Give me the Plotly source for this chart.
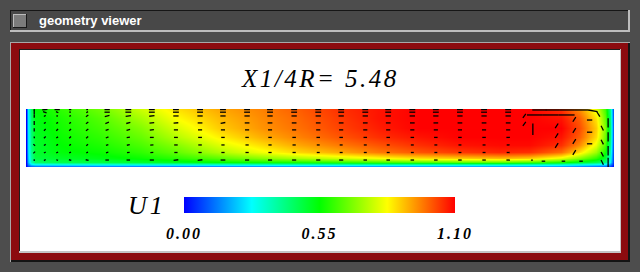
import plotly.graph_objects as go

# ---------------- data ----------------
title_text = "X1/4R= 5.48"
cbar_label = "U1"
tick_vals = [0.0, 0.55, 1.10]
tick_text = ["0.00", "0.55", "1.10"]
u_min, u_max = 0.0, 1.10

# contour grid (channel units: x 0..100 across, y 0..10 up)
grid_x = [0, 0.4, 0.9, 1.5, 6, 12.5, 19.5, 26, 33, 40, 46.5, 53.5, 60, 67, 74, 80.5, 85.5, 91, 94, 97, 98.5, 99.3, 100]
grid_y = [0, 0.2, 0.45, 0.85, 1.55, 2.6, 3.8, 5.2, 6.7, 8.4, 10]
u1 = [
    [0.0, 0.02, 0.02, 0.02, 0.02, 0.02, 0.02, 0.02, 0.02, 0.02, 0.02, 0.02, 0.02, 0.02, 0.02, 0.02, 0.02, 0.02, 0.02, 0.02, 0.02, 0.02, 0.0],
    [0.0, 0.08, 0.12, 0.14, 0.14, 0.15, 0.15, 0.15, 0.16, 0.17, 0.18, 0.18, 0.18, 0.19, 0.19, 0.19, 0.19, 0.18, 0.16, 0.14, 0.12, 0.08, 0.0],
    [0.0, 0.15, 0.26, 0.30, 0.32, 0.33, 0.34, 0.35, 0.36, 0.37, 0.38, 0.39, 0.40, 0.40, 0.40, 0.40, 0.38, 0.36, 0.33, 0.30, 0.27, 0.18, 0.0],
    [0.0, 0.20, 0.35, 0.44, 0.47, 0.48, 0.50, 0.52, 0.55, 0.57, 0.58, 0.60, 0.62, 0.64, 0.65, 0.65, 0.63, 0.58, 0.52, 0.47, 0.42, 0.28, 0.0],
    [0.0, 0.22, 0.38, 0.48, 0.51, 0.53, 0.56, 0.60, 0.65, 0.70, 0.74, 0.78, 0.82, 0.86, 0.88, 0.90, 0.88, 0.80, 0.70, 0.60, 0.50, 0.32, 0.0],
    [0.0, 0.24, 0.40, 0.50, 0.54, 0.56, 0.60, 0.66, 0.74, 0.81, 0.87, 0.92, 0.97, 1.01, 1.04, 1.06, 1.05, 0.98, 0.86, 0.72, 0.57, 0.36, 0.0],
    [0.0, 0.25, 0.41, 0.50, 0.55, 0.58, 0.63, 0.70, 0.79, 0.86, 0.92, 0.97, 1.01, 1.05, 1.08, 1.09, 1.09, 1.05, 0.95, 0.80, 0.63, 0.40, 0.0],
    [0.0, 0.25, 0.42, 0.51, 0.56, 0.60, 0.66, 0.75, 0.84, 0.91, 0.96, 1.01, 1.05, 1.08, 1.10, 1.10, 1.10, 1.08, 1.00, 0.86, 0.67, 0.43, 0.0],
    [0.0, 0.26, 0.43, 0.52, 0.57, 0.62, 0.69, 0.79, 0.88, 0.94, 0.98, 1.03, 1.07, 1.10, 1.10, 1.10, 1.10, 1.10, 1.02, 0.88, 0.69, 0.44, 0.0],
    [0.0, 0.26, 0.44, 0.53, 0.58, 0.64, 0.73, 0.83, 0.90, 0.95, 0.99, 1.04, 1.08, 1.10, 1.10, 1.10, 1.10, 1.08, 1.00, 0.85, 0.66, 0.42, 0.0],
    [0.0, 0.27, 0.45, 0.55, 0.60, 0.67, 0.77, 0.86, 0.92, 0.96, 1.00, 1.05, 1.08, 1.10, 1.10, 1.10, 1.10, 1.05, 0.95, 0.80, 0.62, 0.40, 0.0],
]

# secondary-flow vectors on a regular grid (rows top -> bottom)
vec_x = [1.4, 3.2, 5.3, 7.5, 10.4, 13.8, 17.4, 21.4, 25.5, 29.6, 33.5, 37.6, 41.5, 45.6, 49.7, 53.6, 57.7, 61.6, 65.7, 69.7, 73.8, 77.9, 82.0]
vec_y = [9.9, 9.45, 8.8, 7.6, 6.4, 5.1, 3.8, 2.5, 1.2]
vec_u = [
    [0.0, 0.9, 0.9, 0.4, 0.3, 0.9, 1.0, 1.0, 1.0, 1.0, 1.0, 1.0, 1.0, 1.0, 1.0, 1.0, 1.0, 1.0, 1.0, 1.0, 1.0, 1.0, 1.0],
    [0.0, 0.6, 0.4, 0.3, 0.3, 0.9, 1.0, 1.0, 1.0, 1.0, 1.0, 1.0, 1.0, 1.0, 1.0, 1.0, 1.0, 1.0, 1.0, 1.0, 1.0, 1.0, 1.0],
    [0.0, 0.3, 0.3, 0.3, 0.4, 0.8, 0.9, 0.9, 0.9, 0.9, 0.9, 0.9, 0.9, 0.9, 0.9, 0.9, 0.9, 0.9, 0.9, 0.9, 0.9, 0.9, 0.9],
    [0.0, 0.3, 0.3, 0.3, 0.4, 0.6, 0.7, 0.8, 0.8, 0.8, 0.8, 0.8, 0.8, 0.8, 0.8, 0.8, 0.8, 0.8, 0.8, 0.8, 0.8, 0.8, 0.8],
    [0.0, 0.3, 0.3, 0.3, 0.4, 0.5, 0.6, 0.7, 0.7, 0.7, 0.7, 0.7, 0.7, 0.7, 0.7, 0.7, 0.7, 0.7, 0.7, 0.7, 0.7, 0.7, 0.7],
    [0.1, 0.3, 0.3, 0.3, 0.35, 0.45, 0.55, 0.65, 0.65, 0.65, 0.6, 0.6, 0.6, 0.6, 0.6, 0.6, 0.6, 0.6, 0.6, 0.6, 0.6, 0.6, 0.6],
    [0.3, 0.3, 0.3, 0.3, 0.3, 0.4, 0.5, 0.55, 0.6, 0.6, 0.55, 0.55, 0.55, 0.55, 0.5, 0.5, 0.5, 0.5, 0.5, 0.5, 0.5, 0.5, 0.5],
    [0.3, 0.3, 0.3, 0.3, 0.3, 0.4, 0.45, 0.5, 0.55, 0.55, 0.55, 0.55, 0.55, 0.55, 0.5, 0.5, 0.5, 0.5, 0.5, 0.5, 0.5, 0.5, 0.5],
    [0.0, 0.3, 0.3, 0.4, 0.5, 0.6, 0.6, 0.7, 0.8, 0.8, 0.8, 0.7, 0.7, 0.7, 0.7, 0.7, 0.6, 0.6, 0.6, 0.6, 0.6, 0.6, 0.6],
]
vec_v = [
    [-0.5, 0.1, 0.0, 0.0, 0.0, 0.0, 0.0, 0.0, 0.0, 0.0, 0.0, 0.0, 0.0, 0.0, 0.0, 0.0, 0.0, 0.0, 0.0, 0.0, 0.0, 0.0, 0.0],
    [-0.6, -0.2, -0.2, 0.0, 0.2, 0.0, 0.0, 0.0, 0.0, 0.0, 0.0, 0.0, 0.0, 0.0, 0.0, 0.0, 0.0, 0.0, 0.0, 0.0, 0.0, 0.0, 0.0],
    [-0.6, 0.2, 0.0, 0.1, 0.3, 0.2, 0.15, 0.1, 0.0, 0.0, 0.0, 0.0, 0.0, 0.0, 0.0, 0.0, 0.0, 0.0, 0.0, 0.0, 0.0, 0.0, 0.0],
    [-0.7, 0.2, 0.2, 0.2, 0.3, 0.25, 0.2, 0.1, 0.05, 0.0, 0.15, 0.0, 0.0, 0.0, 0.0, 0.0, 0.0, 0.0, 0.0, 0.0, 0.0, 0.0, 0.0],
    [-0.6, 0.3, 0.3, 0.3, 0.3, 0.2, 0.15, 0.1, 0.0, 0.0, 0.0, 0.0, 0.0, 0.0, 0.0, 0.0, 0.0, 0.0, 0.0, 0.0, 0.0, 0.0, 0.0],
    [-0.3, 0.3, 0.2, 0.3, 0.3, 0.2, 0.1, 0.0, 0.0, 0.0, 0.0, 0.0, 0.0, 0.0, 0.0, 0.0, 0.0, 0.0, 0.0, 0.0, 0.0, 0.0, 0.0],
    [-0.3, 0.2, 0.2, 0.2, 0.25, 0.15, 0.1, 0.05, 0.0, 0.0, 0.0, 0.0, 0.0, 0.0, 0.0, 0.0, 0.0, 0.0, 0.0, 0.0, 0.0, 0.0, 0.0],
    [0.3, 0.2, 0.2, 0.15, 0.1, 0.1, 0.05, 0.05, 0.0, 0.0, 0.0, 0.0, 0.0, 0.0, 0.0, 0.0, 0.0, 0.0, 0.0, 0.0, 0.0, 0.0, 0.0],
    [0.3, 0.2, -0.1, -0.1, -0.1, 0.0, 0.0, 0.0, 0.1, 0.1, 0.0, 0.0, 0.0, 0.0, 0.0, 0.0, 0.0, 0.0, 0.0, 0.0, 0.0, 0.0, 0.0],
]

# vectors in the corner vortex
vortex_x = [86.1, 88.4, 90.8, 93.2, 95.6, 97.1, 85.2, 87.9, 90.6, 84.5, 84.5, 86.2, 86.2,
            90.0, 90.0, 90.0, 93.0, 93.0, 93.0, 93.0, 95.4, 95.4, 95.4,
            97.8, 97.8, 97.8, 97.8, 99.0, 99.0, 99.0, 99.0, 88.3, 91.7, 94.7]
vortex_y = [9.83, 9.83, 9.83, 9.83, 9.83, 9.48, 8.97, 8.97, 8.97, 8.45, 7.07, 5.5, 1.2,
            6.7, 5.0, 3.3, 7.8, 5.9, 4.0, 2.1, 8.1, 6.0, 4.0,
            7.1, 4.7, 2.6, 1.2, 8.4, 6.0, 3.6, 1.6, 1.0, 1.0, 1.0]
vortex_u = [2.4, 2.4, 2.4, 2.4, 1.6, 0.5, 2.7, 2.7, 2.7, 0.5, 0.5, 0.0, -0.3,
            0.5, 0.5, 0.5, 0.5, 0.5, 0.5, 0.5, 0.9, 0.9, 0.9,
            0.4, 0.4, 0.4, 0.4, 0.0, 0.0, 0.0, 0.0, -0.6, -0.6, -0.6]
vortex_v = [0.0, 0.0, 0.0, 0.0, -0.3, -0.8, 0.0, 0.0, 0.0, 0.7, 0.7, 2.0, 0.0,
            0.8, 0.8, 0.8, 0.8, 0.8, 0.8, 0.8, 0.0, 0.0, 0.0,
            -0.8, -0.8, -0.8, -0.8, -1.6, -1.6, -1.6, -1.6, 0.0, 0.0, 0.0]

# ---------------- figure ----------------
W, H = 640, 272

def px(x):
    return x / W

def py(y):
    return 1 - y / H

shapes = []

def rect(x0, y0, x1, y1, color):
    shapes.append(dict(type="rect", xref="paper", yref="paper",
                       x0=px(x0), x1=px(x1), y0=py(y1), y1=py(y0),
                       fillcolor=color, line=dict(width=0), layer="below"))

# title bar with bevel
rect(10, 10, 630, 32, "#bdbdbd")
rect(10, 10, 628, 30, "#161616")
rect(11, 11, 628, 30, "#484848")
# button
rect(13, 14, 27, 28, "#1a1a1a")
rect(13, 14, 26, 27, "#bcbcbc")
rect(14, 15, 26, 27, "#7c7c7c")
# red frame
rect(10, 42, 630, 262, "#a8a8a8")
rect(11, 43, 630, 262, "#141414")
rect(11, 43, 628, 260, "#8c0b0f")
rect(19, 49, 621, 253, "#c4c4c4")
rect(19, 49, 620, 251, "#1e1e1e")
rect(20, 50, 620, 251, "#ffffff")

colorscale = [[0.0, "#0000ff"], [0.25, "#00ffff"], [0.5, "#00ff00"],
              [0.75, "#ffff00"], [1.0, "#ff0000"]]

spaced_ticks = ['<span style="letter-spacing:2px">' + t + '</span>' for t in tick_text]

heat = go.Heatmap(
    x=grid_x, y=grid_y, z=u1, zmin=u_min, zmax=u_max, zsmooth="best",
    colorscale=colorscale, hoverinfo="skip",
    colorbar=dict(
        orientation="h", lenmode="pixels", len=271, thicknessmode="pixels",
        thickness=16, x=px(319.5), xanchor="center", y=py(197), yanchor="top",
        xpad=0, ypad=0, outlinewidth=0, tickmode="array", tickvals=tick_vals,
        ticktext=spaced_ticks, ticks="outside", ticklen=7, tickcolor="rgba(0,0,0,0)",
        tickfont=dict(family="Liberation Serif", size=16, color="#000000",
                      style="italic", weight="bold"),
    ),
)

# quiver segments (centered dashes)
qx, qy = [], []
for i, yv in enumerate(vec_y):
    for j, xv in enumerate(vec_x):
        u, v = vec_u[i][j], vec_v[i][j]
        if u == 0 and v == 0:
            u = 0.1
        qx += [xv - u / 2, xv + u / 2, None]
        qy += [yv - v / 2, yv + v / 2, None]
for xv, yv, u, v in zip(vortex_x, vortex_y, vortex_u, vortex_v):
    qx += [xv, xv + u, None]
    qy += [yv, yv + v, None]

quiver = go.Scatter(x=qx, y=qy, mode="lines", line=dict(color="#000000", width=1.3),
                    hoverinfo="skip", showlegend=False)

fig = go.Figure([heat, quiver])

annotations = [
    dict(text="geometry viewer", x=px(37), y=py(21), xanchor="left", yanchor="middle",
         showarrow=False, font=dict(family="Liberation Sans", size=13, color="#ffffff", weight="bold")),
    dict(text='<span style="letter-spacing:2.5px">' + title_text + '</span>',
         x=px(320), y=py(78), xanchor="center", yanchor="middle",
         showarrow=False, font=dict(family="Liberation Serif", size=25, color="#000000", style="italic")),
    dict(text='<span style="letter-spacing:3px">' + cbar_label + '</span>',
         x=px(147), y=py(205), xanchor="center", yanchor="middle",
         showarrow=False, font=dict(family="Liberation Serif", size=26, color="#000000", style="italic")),
]
for a in annotations:
    a["xref"] = "paper"
    a["yref"] = "paper"

fig.update_layout(
    width=W, height=H, margin=dict(l=0, r=0, t=0, b=0, pad=0),
    paper_bgcolor="#4d4d4d", plot_bgcolor="rgba(0,0,0,0)",
    shapes=shapes, annotations=annotations, showlegend=False,
    xaxis=dict(domain=[px(26), px(614)], range=[0, 100], visible=False, fixedrange=True),
    yaxis=dict(domain=[py(167), py(109)], range=[0, 10], visible=False, fixedrange=True),
)

fig.write_html("out.html", config={"displayModeBar": False})
